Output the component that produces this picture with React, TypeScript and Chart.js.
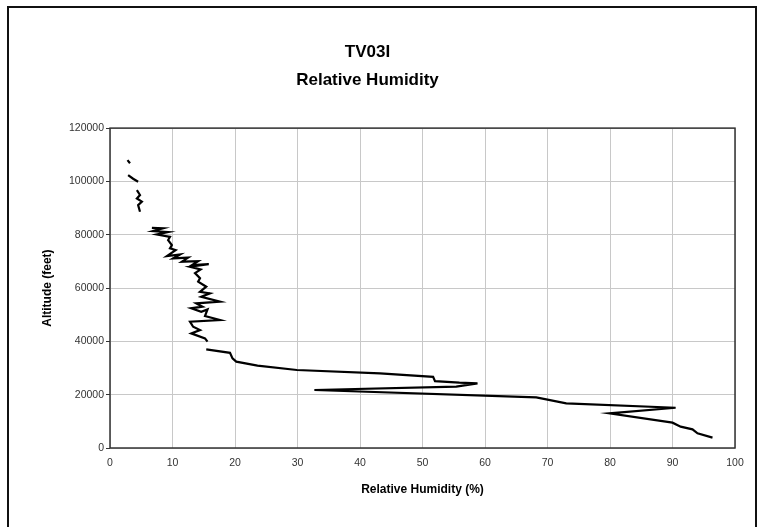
import React, { useEffect, useRef } from "react";
import { Chart, registerables } from "chart.js";

Chart.register(...registerables);

// Altitude (feet), top of the sounding down to the surface; null = gap in the trace
const altitudeFt: (number | null)[] = [
  108000, 106800, null,
  102400, 101000, 99900, null,
  96750, 94900, 93600, 92400, 91100, 88600, null,
  82600, 82400, 81400, 81000, 80100, 79200, 78000, 76100, 74900, 74250,
  72000, 72600, 71100, 71400, 69900, 70100, 68600, 69000, 68000, 67000,
  65600, 63700, 62400, 60500, 58600, 58000, 56700, 54900, 54250, 53000,
  52400, 51100, 52000, 49500, 48000, 47400, 45500, 44250, 43000, 41100,
  39900, null,
  37000, 35700, 33600, 32400, 30900, 29250, 28000, 26700, 25100, 24500,
  24250, 23000, 21750, 19000, 16750, 15100, 13000, 9500, 8000, 7000,
  5500, 3900,
];

// Relative humidity (%) at each altitude above
const humidityPct: (number | null)[] = [
  2.8, 3.2, null,
  2.9, 3.7, 4.5, null,
  4.3, 4.8, 4.3, 5.1, 4.5, 4.8, null,
  6.7, 8.5, 6.9, 9.3, 7.5, 9.6, 9.3, 9.9, 9.6, 10.5,
  9.1, 11.2, 10.1, 12.5, 11.5, 14.1, 13.1, 15.8, 12.8, 14.5,
  13.6, 14.4, 14.1, 15.4, 14.4, 16.0, 14.6, 17.6, 13.8, 14.8,
  13.0, 14.6, 15.6, 15.2, 17.6, 12.8, 13.3, 14.4, 13.0, 15.2,
  15.6, null,
  15.4, 19.2, 19.6, 20.2, 23.6, 29.9, 43.2, 51.7, 52.0, 55.9,
  58.8, 55.4, 32.7, 68.2, 73.0, 90.5, 79.9, 90.0, 91.3, 93.2,
  94.0, 96.4,
];

const titleLines = ["TV03I", "Relative Humidity"];
const xTitle = "Relative Humidity (%)";
const yTitle = "Altitude (feet)";

const FONT = "'Liberation Sans', Arial, Helvetica, sans-serif";

export default function App() {
  const canvasRef = useRef<HTMLCanvasElement | null>(null);

  useEffect(() => {
    if (!canvasRef.current) return;
    const points = altitudeFt.map((a, i) => ({ x: humidityPct[i], y: a }));

    const frame = {
      id: "plotFrame",
      beforeDatasetsDraw(chart: any) {
        const { ctx, chartArea } = chart;
        ctx.save();
        ctx.strokeStyle = "#333";
        ctx.lineWidth = 1.5;
        ctx.strokeRect(chartArea.left, chartArea.top, chartArea.right - chartArea.left, chartArea.bottom - chartArea.top);
        ctx.restore();
      },
    };

    const chart = new Chart(canvasRef.current, {
      type: "scatter",
      data: {
        datasets: [
          {
            data: points as any,
            showLine: true,
            spanGaps: false,
            borderColor: "#000",
            borderWidth: 2.2,
            pointRadius: 0,
            tension: 0,
          },
        ],
      },
      options: {
        responsive: false,
        animation: false,
        layout: { padding: { left: 0, right: 28, top: 0, bottom: 0 } },
        plugins: {
          legend: { display: false },
          tooltip: { enabled: false },
          title: {
            display: true,
            text: titleLines,
            color: "#000",
            font: { family: FONT, size: 17, weight: "bold", lineHeight: 1.65 },
            padding: { top: 38, bottom: 34 },
          },
        },
        scales: {
          x: {
            type: "linear",
            min: 0,
            max: 100,
            ticks: {
              stepSize: 10,
              color: "#333",
              font: { family: FONT, size: 10.5 },
              padding: 9,
            },
            grid: { color: "#c8c8c8", lineWidth: 1, drawTicks: false },
            border: { display: false },
            title: {
              display: true,
              text: xTitle,
              color: "#000",
              font: { family: FONT, size: 12, weight: "bold" },
              padding: { top: 0, bottom: 30 },
            },
            afterFit(scale: any) {
              scale.height = 79;
            },
          },
          y: {
            type: "linear",
            min: 0,
            max: 120000,
            ticks: {
              stepSize: 20000,
              color: "#333",
              font: { family: FONT, size: 10.5 },
              padding: 2,
              callback: (v: any) => String(v),
            },
            grid: { color: "#c8c8c8", lineWidth: 1, tickLength: 4, tickColor: "#333" },
            border: { display: false },
            title: {
              display: true,
              text: yTitle,
              color: "#000",
              font: { family: FONT, size: 12, weight: "bold" },
              padding: { top: 40, bottom: 0 },
            },
            afterFit(scale: any) {
              scale.width = 110;
            },
          },
        },
      },
      plugins: [frame],
    });

    return () => chart.destroy();
  }, []);

  return (
    <div style={{ position: "fixed", left: 0, top: 0, width: 763, height: 527, background: "#fff", overflow: "hidden" }}>
      <canvas ref={canvasRef} width={763} height={527} style={{ position: "absolute", left: 0, top: 0 }} />
      <div
        style={{
          position: "absolute",
          left: 7,
          top: 6,
          width: 750,
          height: 600,
          boxSizing: "border-box",
          border: "2px solid #111",
          pointerEvents: "none",
        }}
      />
    </div>
  );
}
